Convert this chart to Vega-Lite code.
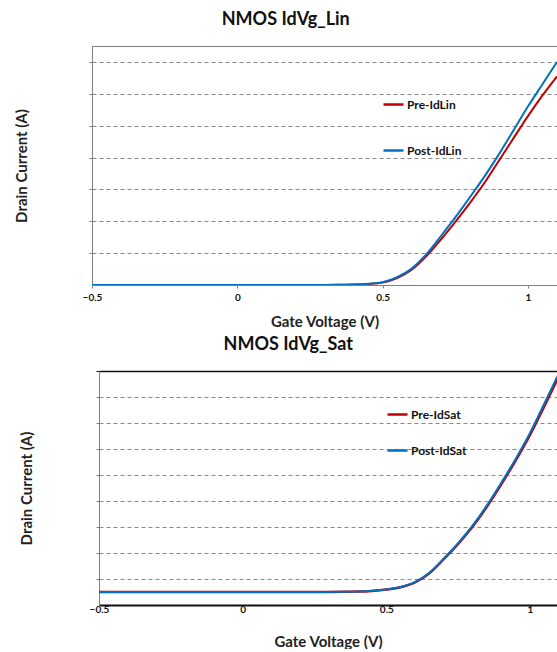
{
  "$schema": "https://vega.github.io/schema/vega-lite/v6.json",
  "padding": {"left": 14, "top": 10, "right": 0, "bottom": 0},
  "background": "white",
  "spacing": 5,
  "config": {
    "font": "Lato",
    "title": {"font": "Lato", "fontSize": 18, "fontWeight": "bold", "color": "#111111", "anchor": "middle", "frame": "bounds", "offset": 17},
    "axis": {"labelFont": "Lato", "labelFontWeight": "bold", "labelFontSize": 10, "labelColor": "#111111", "titleFont": "Lato", "titleFontWeight": "bold", "titleFontSize": 15, "titleColor": "#222222"},
    "legend": {"labelFont": "Lato", "labelFontWeight": "bold", "labelFontSize": 12, "labelColor": "#111111", "padding": 0}
  },
  "resolve": {"scale": {"color": "independent"}, "legend": {"color": "independent"}},
  "datasets": {
    "lin": [
      {"v": -0.5, "id": 0, "s": "Pre-IdLin"}, {"v": 0, "id": 0, "s": "Pre-IdLin"}, {"v": 0.25, "id": 0, "s": "Pre-IdLin"},
      {"v": 0.3, "id": 0.002, "s": "Pre-IdLin"}, {"v": 0.35, "id": 0.005, "s": "Pre-IdLin"}, {"v": 0.4, "id": 0.012, "s": "Pre-IdLin"},
      {"v": 0.45, "id": 0.035, "s": "Pre-IdLin"}, {"v": 0.5, "id": 0.08, "s": "Pre-IdLin"}, {"v": 0.55, "id": 0.22, "s": "Pre-IdLin"},
      {"v": 0.6, "id": 0.48, "s": "Pre-IdLin"}, {"v": 0.65, "id": 0.9, "s": "Pre-IdLin"}, {"v": 0.7, "id": 1.42, "s": "Pre-IdLin"},
      {"v": 0.75, "id": 1.98, "s": "Pre-IdLin"}, {"v": 0.8, "id": 2.57, "s": "Pre-IdLin"}, {"v": 0.85, "id": 3.2, "s": "Pre-IdLin"},
      {"v": 0.9, "id": 3.9, "s": "Pre-IdLin"}, {"v": 0.95, "id": 4.6, "s": "Pre-IdLin"}, {"v": 1.0, "id": 5.3, "s": "Pre-IdLin"},
      {"v": 1.05, "id": 5.95, "s": "Pre-IdLin"}, {"v": 1.1, "id": 6.55, "s": "Pre-IdLin"},
      {"v": -0.5, "id": 0, "s": "Post-IdLin"}, {"v": 0, "id": 0, "s": "Post-IdLin"}, {"v": 0.25, "id": 0, "s": "Post-IdLin"},
      {"v": 0.3, "id": 0.002, "s": "Post-IdLin"}, {"v": 0.35, "id": 0.006, "s": "Post-IdLin"}, {"v": 0.4, "id": 0.015, "s": "Post-IdLin"},
      {"v": 0.45, "id": 0.04, "s": "Post-IdLin"}, {"v": 0.5, "id": 0.09, "s": "Post-IdLin"}, {"v": 0.55, "id": 0.25, "s": "Post-IdLin"},
      {"v": 0.6, "id": 0.52, "s": "Post-IdLin"}, {"v": 0.65, "id": 0.96, "s": "Post-IdLin"}, {"v": 0.7, "id": 1.53, "s": "Post-IdLin"},
      {"v": 0.75, "id": 2.12, "s": "Post-IdLin"}, {"v": 0.8, "id": 2.75, "s": "Post-IdLin"}, {"v": 0.85, "id": 3.4, "s": "Post-IdLin"},
      {"v": 0.9, "id": 4.1, "s": "Post-IdLin"}, {"v": 0.95, "id": 4.85, "s": "Post-IdLin"}, {"v": 1.0, "id": 5.6, "s": "Post-IdLin"},
      {"v": 1.05, "id": 6.3, "s": "Post-IdLin"}, {"v": 1.1, "id": 7.0, "s": "Post-IdLin"}
    ],
    "sat": [
      {"v": -0.5, "id": 0, "s": "Pre-IdSat"}, {"v": 0, "id": 0, "s": "Pre-IdSat"}, {"v": 0.25, "id": 0, "s": "Pre-IdSat"},
      {"v": 0.3, "id": 0.002, "s": "Pre-IdSat"}, {"v": 0.35, "id": 0.006, "s": "Pre-IdSat"}, {"v": 0.4, "id": 0.015, "s": "Pre-IdSat"},
      {"v": 0.45, "id": 0.043, "s": "Pre-IdSat"}, {"v": 0.5, "id": 0.098, "s": "Pre-IdSat"}, {"v": 0.55, "id": 0.185, "s": "Pre-IdSat"},
      {"v": 0.6, "id": 0.37, "s": "Pre-IdSat"}, {"v": 0.65, "id": 0.72, "s": "Pre-IdSat"}, {"v": 0.7, "id": 1.26, "s": "Pre-IdSat"},
      {"v": 0.75, "id": 1.85, "s": "Pre-IdSat"}, {"v": 0.8, "id": 2.51, "s": "Pre-IdSat"}, {"v": 0.85, "id": 3.28, "s": "Pre-IdSat"},
      {"v": 0.9, "id": 4.14, "s": "Pre-IdSat"}, {"v": 0.95, "id": 5.05, "s": "Pre-IdSat"}, {"v": 1.0, "id": 6.04, "s": "Pre-IdSat"},
      {"v": 1.05, "id": 7.15, "s": "Pre-IdSat"}, {"v": 1.1, "id": 8.28, "s": "Pre-IdSat"},
      {"v": -0.5, "id": 0, "s": "Post-IdSat"}, {"v": 0, "id": 0, "s": "Post-IdSat"}, {"v": 0.25, "id": 0, "s": "Post-IdSat"},
      {"v": 0.3, "id": 0.002, "s": "Post-IdSat"}, {"v": 0.35, "id": 0.006, "s": "Post-IdSat"}, {"v": 0.4, "id": 0.016, "s": "Post-IdSat"},
      {"v": 0.45, "id": 0.045, "s": "Post-IdSat"}, {"v": 0.5, "id": 0.1, "s": "Post-IdSat"}, {"v": 0.55, "id": 0.19, "s": "Post-IdSat"},
      {"v": 0.6, "id": 0.38, "s": "Post-IdSat"}, {"v": 0.65, "id": 0.74, "s": "Post-IdSat"}, {"v": 0.7, "id": 1.28, "s": "Post-IdSat"},
      {"v": 0.75, "id": 1.88, "s": "Post-IdSat"}, {"v": 0.8, "id": 2.55, "s": "Post-IdSat"}, {"v": 0.85, "id": 3.33, "s": "Post-IdSat"},
      {"v": 0.9, "id": 4.2, "s": "Post-IdSat"}, {"v": 0.95, "id": 5.12, "s": "Post-IdSat"}, {"v": 1.0, "id": 6.12, "s": "Post-IdSat"},
      {"v": 1.05, "id": 7.25, "s": "Post-IdSat"}, {"v": 1.1, "id": 8.4, "s": "Post-IdSat"}
    ]
  },
  "vconcat": [
    {
      "title": "NMOS IdVg_Lin",
      "width": 465,
      "height": 239,
      "data": {"name": "lin"},
      "view": {"stroke": "#808080", "strokeWidth": 1},
      "encoding": {
        "x": {"field": "v", "type": "quantitative", "scale": {"domain": [-0.5, 1.1], "nice": false, "zero": false},
          "axis": {"values": [-0.5, 0, 0.5, 1], "format": "~g", "title": "Gate Voltage (V)", "grid": false, "domainColor": "#808080", "tickColor": "#808080", "tickSize": 3, "labelPadding": 4, "titlePadding": 12, "labelFlush": false}},
        "y": {"field": "id", "type": "quantitative", "scale": {"domain": [0, 7.5], "nice": false, "zero": false},
          "axis": {"values": [1, 2, 3, 4, 5, 6, 7], "labels": false, "title": "Drain Current (A)", "grid": true, "gridDash": [4, 3], "gridColor": "#8a8a8a", "domainColor": "#808080", "tickColor": "#808080", "tickSize": 3, "titlePadding": 59}},
        "color": {"field": "s", "type": "nominal", "scale": {"domain": ["Pre-IdLin", "Post-IdLin"], "range": ["#C00000", "#0070C0"]},
          "legend": {"orient": "none", "legendX": 290, "legendY": 47, "title": null, "symbolType": "stroke", "symbolSize": 400, "symbolStrokeWidth": 2.5, "rowPadding": 28, "labelOffset": 2}}
      },
      "layer": [
        {"transform": [{"filter": "datum.s === 'Pre-IdLin'"}], "mark": {"type": "line", "strokeWidth": 2, "interpolate": "monotone", "clip": true}},
        {"transform": [{"filter": "datum.s === 'Post-IdLin'"}], "mark": {"type": "line", "strokeWidth": 2, "interpolate": "monotone", "clip": true}}
      ]
    },
    {
      "title": {"text": "NMOS IdVg_Sat", "offset": 17},
      "width": 465,
      "height": 234,
      "data": {"name": "sat"},
      "view": {"stroke": null},
      "encoding": {
        "x": {"field": "v", "type": "quantitative", "scale": {"domain": [-0.5, 1.094], "range": [7, 465], "nice": false, "zero": false},
          "axis": {"values": [-0.5, 0, 0.5, 1], "format": "~g", "title": "Gate Voltage (V)", "grid": false, "domainColor": "#111111", "domainWidth": 2, "ticks": false, "labelPadding": -1, "titlePadding": 20, "labelFlush": false}},
        "y": {"field": "id", "type": "quantitative", "scale": {"domain": [-0.5, 8.5], "nice": false, "zero": false},
          "axis": {"values": [0.5, 1.5, 2.5, 3.5, 4.5, 5.5, 6.5, 7.5, 8.5], "offset": -7, "labels": false, "title": "Drain Current (A)", "grid": true,
            "gridDash": {"condition": {"test": "datum.value === 8.5", "value": []}, "value": [4, 3]},
            "gridColor": {"condition": {"test": "datum.value === 8.5", "value": "#111111"}, "value": "#8a8a8a"},
            "gridWidth": {"condition": {"test": "datum.value === 8.5", "value": 1.3}, "value": 1},
            "tickColor": {"condition": {"test": "datum.value === 8.5", "value": "#111111"}, "value": "#808080"},
            "domainColor": "#808080", "tickSize": 3, "titlePadding": 61}},
        "color": {"field": "s", "type": "nominal", "scale": {"domain": ["Pre-IdSat", "Post-IdSat"], "range": ["#C00000", "#0070C0"]},
          "legend": {"orient": "none", "legendX": 294, "legendY": 32, "title": null, "symbolType": "stroke", "symbolSize": 400, "symbolStrokeWidth": 2.5, "rowPadding": 18, "labelOffset": 2}}
      },
      "layer": [
        {"transform": [{"filter": "datum.s === 'Pre-IdSat'"}], "mark": {"type": "line", "strokeWidth": 2.5, "interpolate": "monotone", "clip": true}},
        {"transform": [{"filter": "datum.s === 'Post-IdSat'"}], "mark": {"type": "line", "strokeWidth": 2, "interpolate": "monotone", "clip": true}}
      ]
    }
  ]
}
